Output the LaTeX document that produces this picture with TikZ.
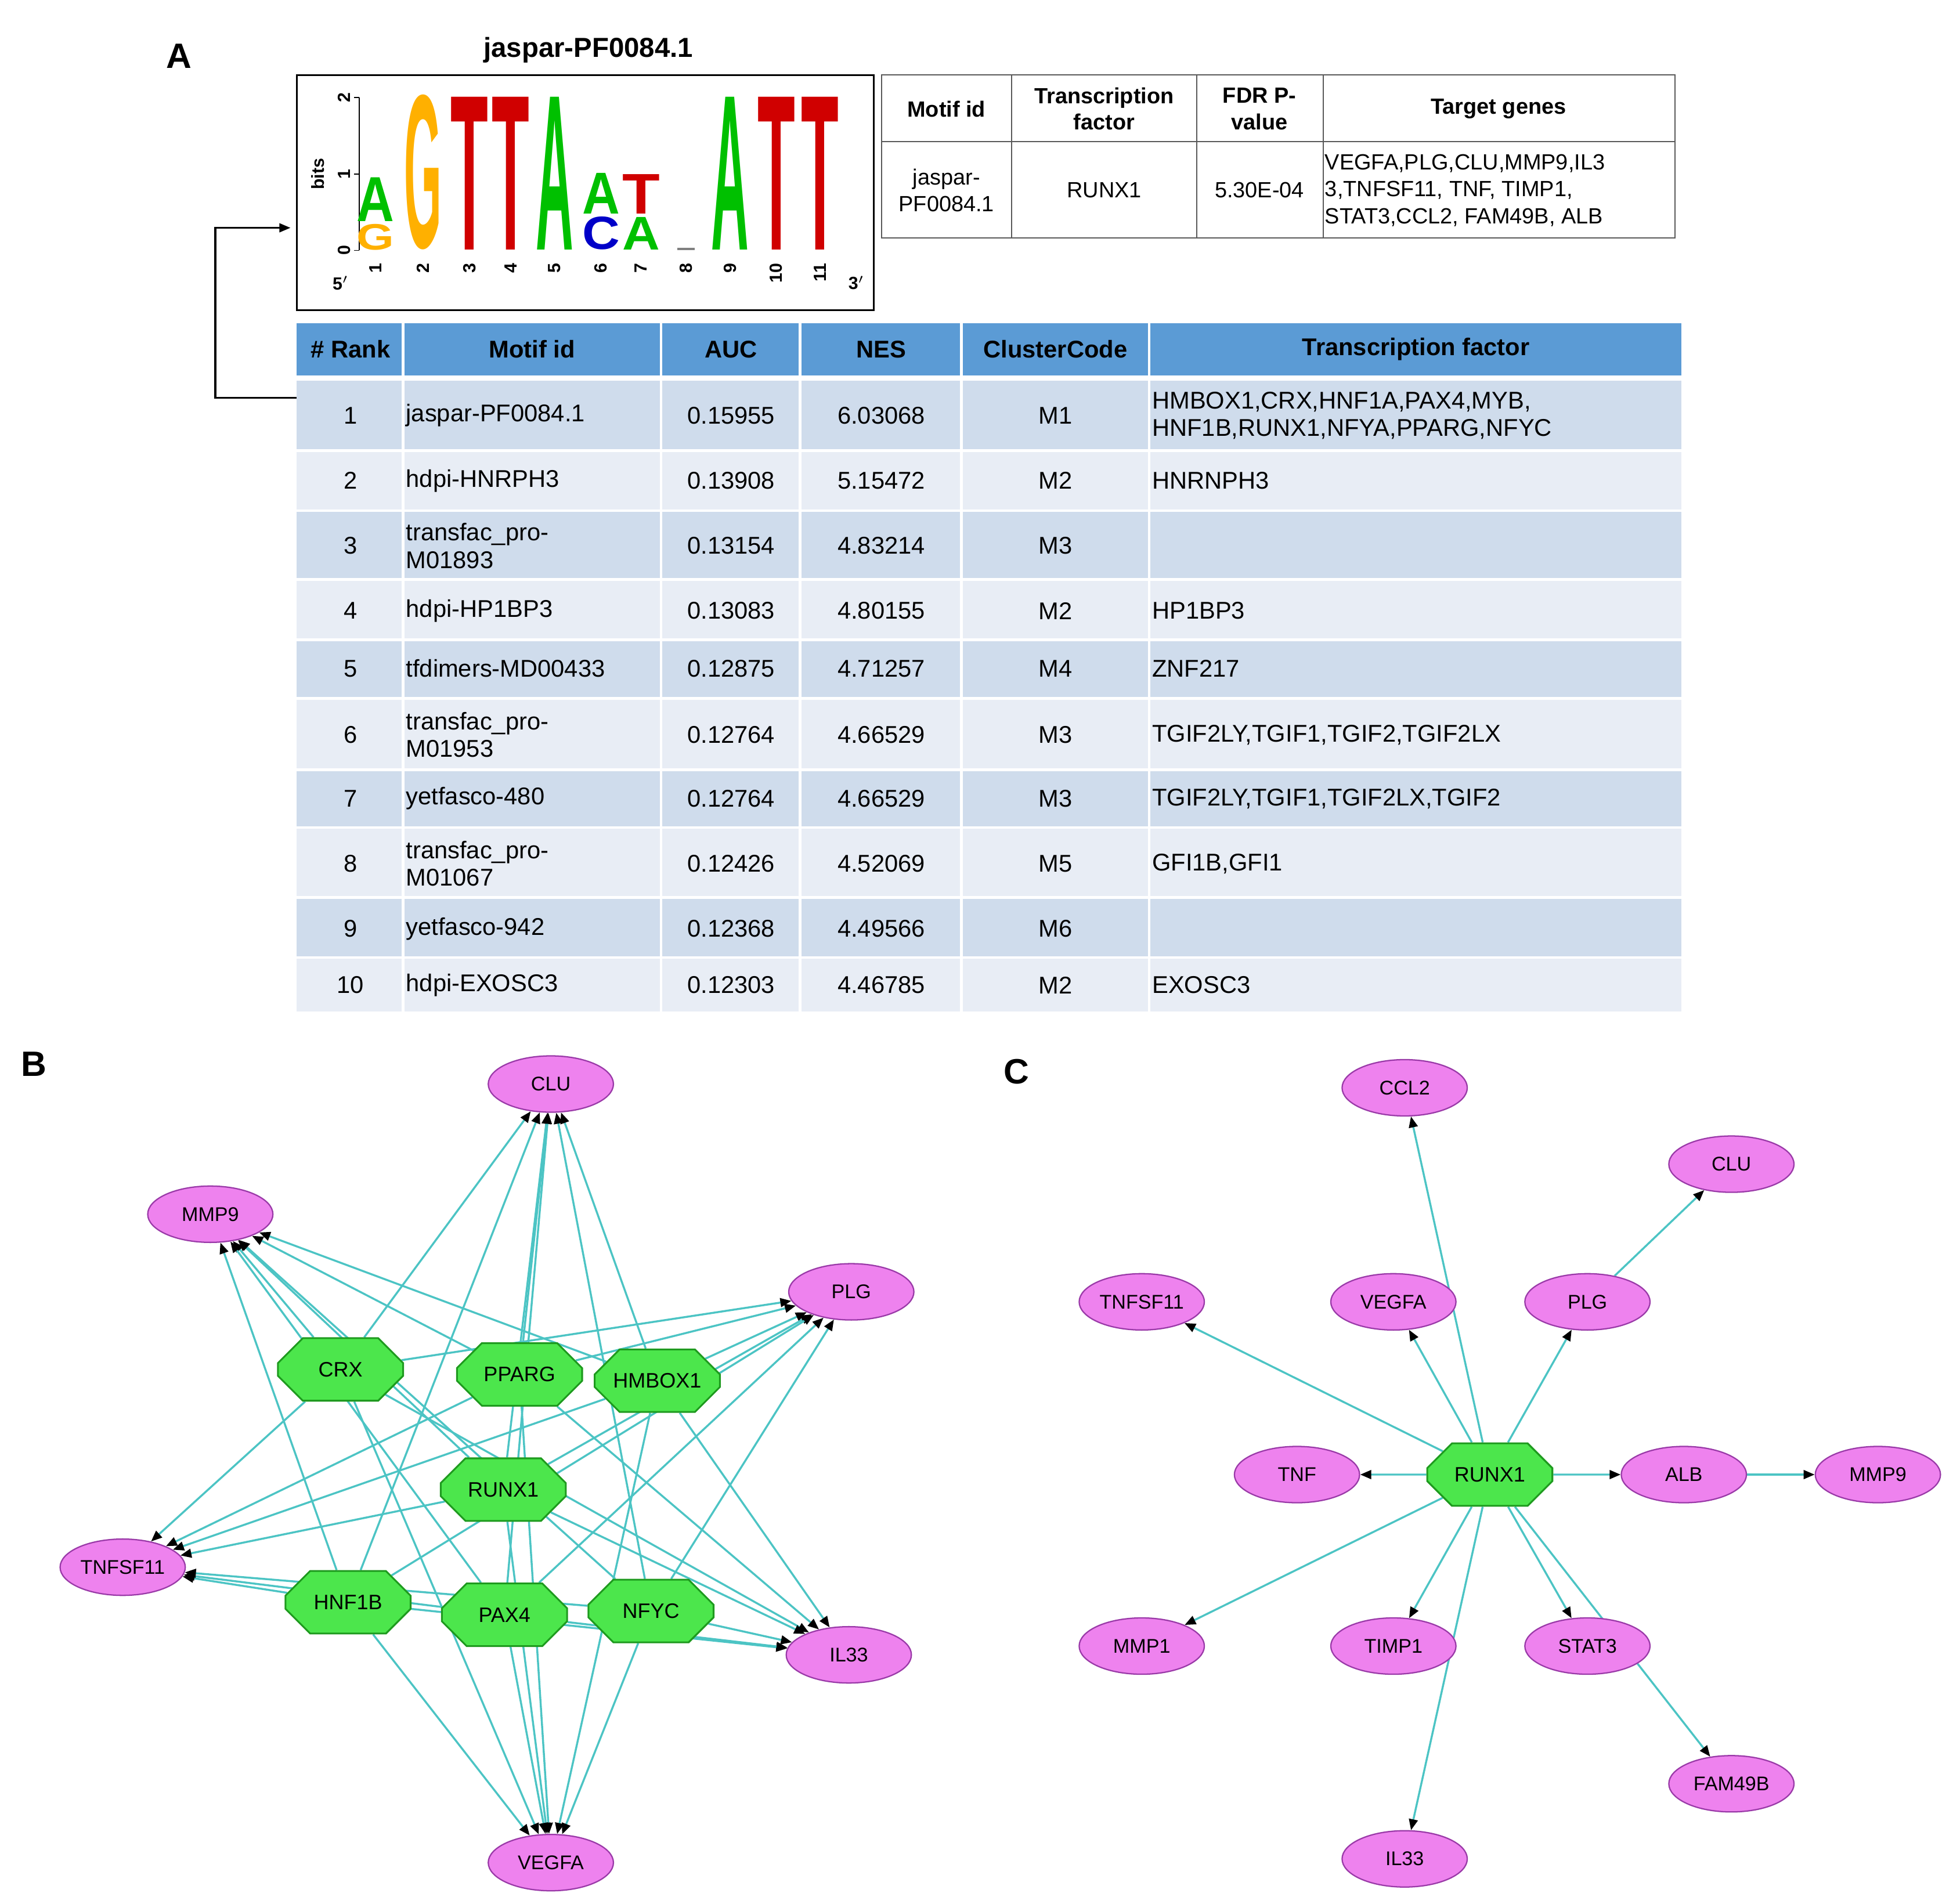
\documentclass[tikz,border=0pt]{standalone}
\usepackage{fontspec}
\setmainfont{Liberation Sans}
\usetikzlibrary{shapes.geometric,shapes.misc,arrows.meta,backgrounds}
\definecolor{hdr}{HTML}{5B9BD5}
\definecolor{rowa}{HTML}{CFDCEC}
\definecolor{rowb}{HTML}{E8EDF5}
\definecolor{edgec}{HTML}{4CC4C4}
\definecolor{tfill}{HTML}{EE82EE}
\definecolor{tdraw}{HTML}{9A3AA8}
\definecolor{ofill}{HTML}{4CE64C}
\definecolor{odraw}{HTML}{1E9A1E}
\definecolor{lgreen}{HTML}{00C000}
\definecolor{lorange}{HTML}{FFB000}
\definecolor{lred}{HTML}{D00000}
\definecolor{lblue}{HTML}{0000C8}
\newcommand{\lgl}[5]{\node[anchor=south,inner sep=0pt,text=#5] at (#1,#2) {\resizebox{0.6cm}{#3cm}{\textbf{#4}}};}
\tikzset{
 tbl/.style={font=\fontsize{11}{13}\selectfont,inner sep=0pt},
 tblh/.style={font=\bfseries\fontsize{11}{13}\selectfont,inner sep=0pt},
 sml/.style={font=\fontsize{10}{12}\selectfont,inner sep=0pt},
 smlh/.style={font=\bfseries\fontsize{10}{12}\selectfont,inner sep=0pt},
 tgt/.style={ellipse,fill=tfill,draw=tdraw,line width=0.6pt,minimum width=2cm,minimum height=0.9cm,inner sep=0pt,font=\fontsize{9}{10}\selectfont},
 tf/.style={chamfered rectangle,chamfered rectangle sep=0.28cm,fill=ofill,draw=odraw,line width=0.8pt,minimum width=2cm,minimum height=1cm,inner sep=0pt,font=\fontsize{9.5}{10}\selectfont},
 edge/.style={draw=edgec,line width=0.9pt,-{Triangle[color=black,length=5pt,width=4pt]}},
 lab/.style={font=\bfseries\fontsize{16}{18}\selectfont},
 ax/.style={font=\bfseries\fontsize{8}{9}\selectfont}
}
\begin{document}
\begin{tikzpicture}[x=0.02cm,y=-0.02cm]
\useasboundingbox (0,0) rectangle (1560,1521);
% ---------- A -----------
\node[lab] at (143,45) {A};
\node[font=\bfseries\fontsize{12.5}{14}\selectfont] at (470,40) {jaspar-PF0084.1};
\draw[line width=0.8pt] (237,60) rectangle (698,248);
\draw[line width=0.5pt] (287,78) -- (287,200);
\foreach \v/\yy in {0/200,1/139,2/78}{\draw (283,\yy)--(287,\yy); \node[ax,rotate=90] at (275,\yy) {\v};}
\node[ax,rotate=90] at (254,139) {bits};
\foreach \i/\xx in {1/300,2/338,3/375,4/408,5/443,6/480,7/512,8/548,9/583,10/620,11/655}{
  \node[ax,rotate=90,anchor=east] at (\xx,204) {\i};}
\node[ax] at (272,226) {5$'$};
\node[ax] at (684,226) {3$'$};
\lgl{300}{200}{0.41}{G}{lorange}
\lgl{300}{177}{0.70}{A}{lgreen}
\lgl{338}{200}{2.44}{G}{lorange}
\lgl{375}{200}{2.44}{T}{lred}
\lgl{408}{200}{2.44}{T}{lred}
\lgl{443}{200}{2.44}{A}{lgreen}
\lgl{480}{200}{0.52}{C}{lblue}
\lgl{480}{171}{0.65}{A}{lgreen}
\lgl{512}{200}{0.52}{A}{lgreen}
\lgl{512}{171}{0.63}{T}{lred}
\draw[gray,line width=1pt] (541,199) -- (555,199);
\lgl{583}{200}{2.44}{A}{lgreen}
\lgl{620}{200}{2.44}{T}{lred}
\lgl{655}{200}{2.44}{T}{lred}
% top-right table
\draw[line width=0.5pt,gray!70!black] (704,60) rectangle (1338,190);
\draw[line width=0.5pt,gray!70!black] (704,113) -- (1338,113);
\foreach \xx in {808,956,1057}{\draw[line width=0.5pt,gray!70!black] (\xx,60) -- (\xx,190);}
\node[smlh,align=center] at (756,87) {Motif id};
\node[smlh,align=center] at (882,87) {Transcription\\factor};
\node[smlh,align=center] at (1006,87) {FDR P-\\value};
\node[smlh,align=center] at (1197,87) {Target genes};
\node[sml,align=center] at (756,152) {jaspar-\\PF0084.1};
\node[sml] at (882,152) {RUNX1};
\node[sml] at (1006,152) {5.30E-04};
\node[sml,font=\fontsize{10}{12.3}\selectfont,align=left,anchor=west] at (1058,152) {VEGFA,PLG,CLU,MMP9,IL3\\3,TNFSF11, TNF, TIMP1,\\STAT3,CCL2, FAM49B, ALB};
% main table
\fill[hdr] (237,258) rectangle (1343,300);
\foreach \ya/\yb/\c in {303/360/rowa,360/408/rowb,408/463/rowa,463/511/rowb,511/558/rowa,558/615/rowb,615/661/rowa,661/717/rowb,717/765/rowa,765/808/rowb}{
  \fill[\c] (237,\ya) rectangle (1343,\yb);
  \draw[white,line width=1.2pt] (237,\ya) -- (1343,\ya);}
\foreach \xx in {322,528,639,768,918}{\draw[white,line width=1.2pt] (\xx,258) -- (\xx,808);}
\node[tblh] at (280,279) {\# Rank};
\node[tblh] at (425,279) {Motif id};
\node[tblh] at (584,279) {AUC};
\node[tblh] at (704,279) {NES};
\node[tblh] at (843,279) {ClusterCode};
\node[tblh] at (1131,279) {Transcription factor};
\foreach \r/\yy/\m/\a/\n/\cc/\t in {
 1/332/{jaspar-PF0084.1}/0.15955/6.03068/M1/{HMBOX1,CRX,HNF1A,PAX4,MYB,\\HNF1B,RUNX1,NFYA,PPARG,NFYC},
 2/384/{hdpi-HNRPH3}/0.13908/5.15472/M2/{HNRNPH3},
 3/436/{transfac\_pro-\\M01893}/0.13154/4.83214/M3/{},
 4/488/{hdpi-HP1BP3}/0.13083/4.80155/M2/{HP1BP3},
 5/534/{tfdimers-MD00433}/0.12875/4.71257/M4/{ZNF217},
 6/587/{transfac\_pro-\\M01953}/0.12764/4.66529/M3/{TGIF2LY,TGIF1,TGIF2,TGIF2LX},
 7/638/{yetfasco-480}/0.12764/4.66529/M3/{TGIF2LY,TGIF1,TGIF2LX,TGIF2},
 8/690/{transfac\_pro-\\M01067}/0.12426/4.52069/M5/{GFI1B,GFI1},
 9/742/{yetfasco-942}/0.12368/4.49566/M6/{},
 10/787/{hdpi-EXOSC3}/0.12303/4.46785/M2/{EXOSC3}}{
 \node[tbl] at (280,\yy) {\r};
 \node[tbl,anchor=west,align=left,font=\fontsize{11}{12.5}\selectfont] at (324,\yy) {\m};
 \node[tbl] at (584,\yy) {\a};
 \node[tbl] at (704,\yy) {\n};
 \node[tbl] at (843,\yy) {\cc};
 \node[tbl,anchor=west,align=left,font=\fontsize{11}{12.5}\selectfont] at (920,\yy) {\t};
}
\coordinate (br1) at (237,318);
\coordinate (br2) at (232,182);
\draw[line width=0.8pt,-{Triangle[length=5pt,width=4pt]}] (br1) -- (172,318) -- (172,182) -- (br2);
% ---------- B -----------
\node[lab] at (27,850) {B};
\node[tgt] (bCLU) at (440,866) {CLU};
\node[tgt] (bMMP9) at (168,970) {MMP9};
\node[tgt] (bPLG) at (680,1032) {PLG};
\node[tgt] (bTNFSF11) at (98,1252) {TNFSF11};
\node[tgt] (bIL33) at (678,1322) {IL33};
\node[tgt] (bVEGFA) at (440,1488) {VEGFA};
\node[tf] (bCRX) at (272,1094) {CRX};
\node[tf] (bPPARG) at (415,1098) {PPARG};
\node[tf] (bHMBOX1) at (525,1103) {HMBOX1};
\node[tf] (bRUNX1) at (402,1190) {RUNX1};
\node[tf] (bHNF1B) at (278,1280) {HNF1B};
\node[tf] (bPAX4) at (403,1290) {PAX4};
\node[tf] (bNFYC) at (520,1287) {NFYC};
\begin{pgfonlayer}{background}
\foreach \s in {CRX,PPARG,HMBOX1,RUNX1,HNF1B,PAX4,NFYC}{
 \foreach \t in {CLU,MMP9,PLG,TNFSF11,IL33,VEGFA}{
  \draw[edge] (b\s) -- (b\t);}}
\end{pgfonlayer}
% ---------- C -----------
\node[lab] at (812,856) {C};
\node[tf] (cRUNX1) at (1190,1178) {RUNX1};
\node[tgt] (cCCL2) at (1122,869) {CCL2};
\node[tgt] (cCLU) at (1383,930) {CLU};
\node[tgt] (cTNFSF11) at (912,1040) {TNFSF11};
\node[tgt] (cVEGFA) at (1113,1040) {VEGFA};
\node[tgt] (cPLG) at (1268,1040) {PLG};
\node[tgt] (cTNF) at (1036,1178) {TNF};
\node[tgt] (cALB) at (1345,1178) {ALB};
\node[tgt] (cMMP9) at (1500,1178) {MMP9};
\node[tgt] (cMMP1) at (912,1315) {MMP1};
\node[tgt] (cTIMP1) at (1113,1315) {TIMP1};
\node[tgt] (cSTAT3) at (1268,1315) {STAT3};
\node[tgt] (cFAM49B) at (1383,1425) {FAM49B};
\node[tgt] (cIL33) at (1122,1485) {IL33};
\begin{pgfonlayer}{background}
\foreach \t in {CCL2,TNFSF11,VEGFA,PLG,TNF,ALB,MMP1,TIMP1,STAT3,IL33,FAM49B}{
 \draw[edge] (cRUNX1) -- (c\t);}
\draw[edge] (cPLG) -- (cCLU);
\draw[edge] (cALB) -- (cMMP9);
\end{pgfonlayer}
\end{tikzpicture}
\end{document}
